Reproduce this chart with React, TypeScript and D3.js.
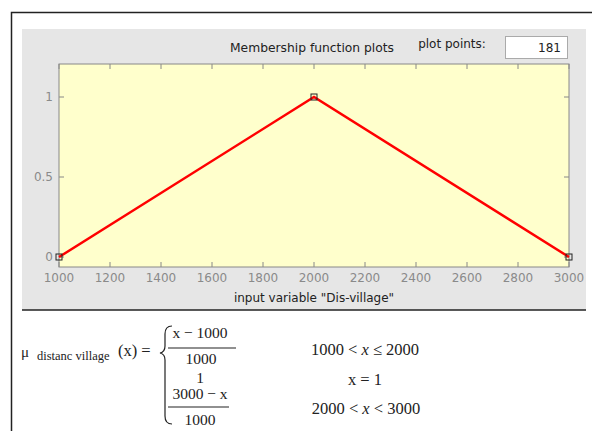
import React from "react";
import * as d3 from "d3";

const mfX = [1000, 2000, 3000];
const mfY = [0, 1, 0];
const xTicks = [1000, 1200, 1400, 1600, 1800, 2000, 2200, 2400, 2600, 2800, 3000];
const yTicks = [0, 0.5, 1];
const yTickLabels = ["0", "0.5", "1"];

export default function App() {
  const W = 592, H = 431;
  const x = d3.scaleLinear().domain([1000, 3000]).range([59, 569]);
  const y = d3.scaleLinear().domain([0, 1]).range([257, 97]);
  const top = 64, bottom = 267;
  const pts = mfX.map((v, i) => [v, mfY[i]] as [number, number]);
  const line = d3.line<[number, number]>().x(d => x(d[0])).y(d => y(d[1]));
  const sans = "'DejaVu Sans', Verdana, sans-serif";
  const serif = "'Liberation Serif', 'DejaVu Serif', serif";
  return (
    <svg width={W} height={H} style={{ position: "absolute", left: 0, top: 0 }}>
      <rect x={0} y={0} width={W} height={H} fill="#fff" />
      <rect x={11.5} y={12.5} width={590} height={430} fill="#fff" stroke="#222" strokeWidth={1.5} />
      <rect x={22} y={29} width={564} height={281} fill="#e6e6e6" />
      <line x1={22} x2={586} y1={310} y2={310} stroke="#222" strokeWidth={1.5} />
      <text x={312} y={52} fontFamily={sans} fontSize={12.3} fill="#222" textAnchor="middle">Membership function plots</text>
      <text x={452} y={48} fontFamily={sans} fontSize={12} fill="#222" textAnchor="middle">plot points:</text>
      <rect x={505.5} y={36.5} width={62} height={22} fill="#fff" stroke="#aaa" />
      <text x={561} y={52} fontFamily={sans} fontSize={12} fill="#222" textAnchor="end">181</text>
      <rect x={x(1000)} y={top} width={x(3000) - x(1000)} height={bottom - top} fill="#ffffcc" stroke="#888" />
      {xTicks.map(t => (
        <g key={t}>
          <line x1={x(t)} x2={x(t)} y1={bottom} y2={bottom - 5} stroke="#888" />
          <line x1={x(t)} x2={x(t)} y1={top} y2={top + 5} stroke="#888" />
          <text x={x(t)} y={282} fontFamily={sans} fontSize={12} fill="#8a8a8a" textAnchor="middle">{t}</text>
        </g>
      ))}
      {yTicks.map((t, i) => (
        <g key={t}>
          <line x1={x(1000)} x2={x(1000) + 5} y1={y(t)} y2={y(t)} stroke="#888" />
          <line x1={x(3000)} x2={x(3000) - 5} y1={y(t)} y2={y(t)} stroke="#888" />
          <text x={53} y={y(t) + 4} fontFamily={sans} fontSize={12} fill="#8a8a8a" textAnchor="end">{yTickLabels[i]}</text>
        </g>
      ))}
      <path d={line(pts) || ""} fill="none" stroke="#ff0000" strokeWidth={2.5} />
      {pts.map((p, i) => (
        <rect key={i} x={x(p[0]) - 3} y={y(p[1]) - 3} width={6} height={6} fill="none" stroke="#222" strokeWidth={1} />
      ))}
      <text x={314} y={302} fontFamily={sans} fontSize={12} fill="#222" textAnchor="middle">input variable "Dis-village"</text>

      <g fontFamily={serif} fill="#222">
        <text x={21} y={357} fontSize={15}>μ</text>
        <text x={37} y={360} fontSize={12.5}>distanc village</text>
        <text x={118} y={356} fontSize={16.5}>(x) =</text>
        <path d="M172,326 Q165,326 165,334 L165,346 Q165,352 160,353 Q165,354 165,360 L165,416 Q165,424 172,424" fill="none" stroke="#222" strokeWidth={1.2} />
        <text x={200} y={338} fontSize={15.5} textAnchor="middle">x − 1000</text>
        <line x1={168} x2={236} y1={348} y2={348} stroke="#222" strokeWidth={1.2} />
        <text x={201} y={364} fontSize={15.5} textAnchor="middle">1000</text>
        <text x={200} y={383} fontSize={15.5} textAnchor="middle">1</text>
        <text x={200} y={399} fontSize={15.5} textAnchor="middle">3000 − x</text>
        <line x1={168} x2={229} y1={407} y2={407} stroke="#222" strokeWidth={1.2} />
        <text x={200} y={425} fontSize={15.5} textAnchor="middle">1000</text>
        <text x={365} y={355} fontSize={16.5} textAnchor="middle">1000 &lt; <tspan fontStyle="italic">x</tspan> ≤ 2000</text>
        <text x={365} y={385} fontSize={16.5} textAnchor="middle">x = 1</text>
        <text x={366} y={414} fontSize={16.5} textAnchor="middle">2000 &lt; <tspan fontStyle="italic">x</tspan> &lt; 3000</text>
      </g>
    </svg>
  );
}
